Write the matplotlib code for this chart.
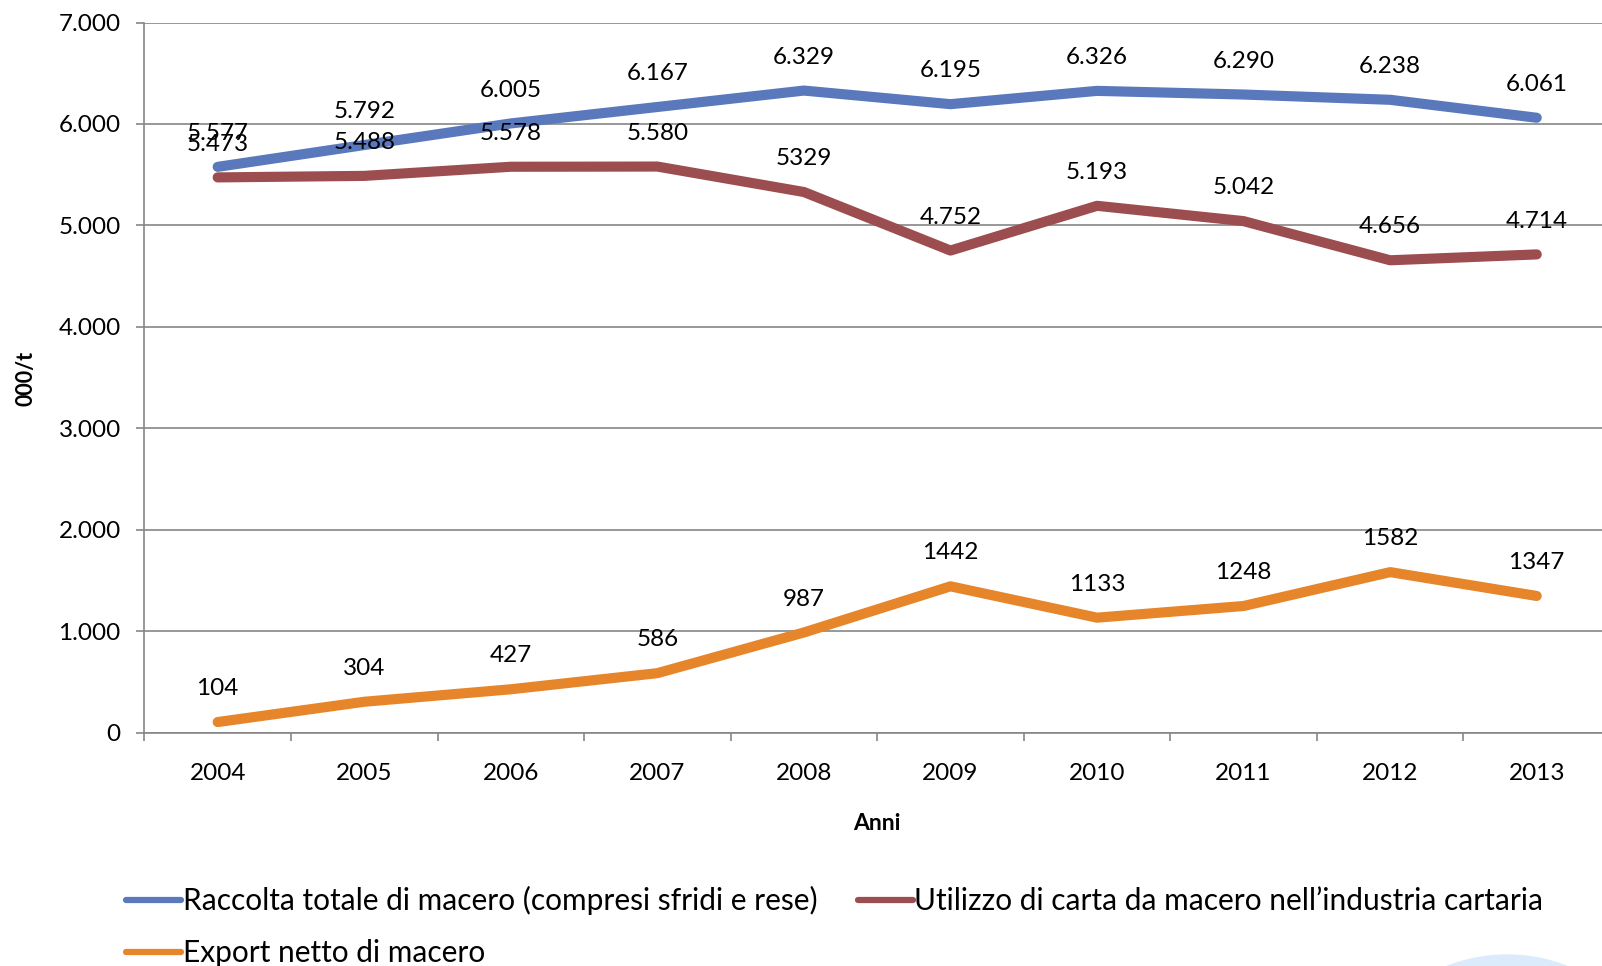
import matplotlib
matplotlib.use("Agg")
from matplotlib import pyplot as plt
from matplotlib.patches import Ellipse
from matplotlib.ticker import FuncFormatter, FixedLocator
import numpy as np

plt.rcParams['font.family'] = ['Lato', 'DejaVu Sans']

years = ['2004', '2005', '2006', '2007', '2008', '2009', '2010', '2011', '2012', '2013']

raccolta = [5577, 5792, 6005, 6167, 6329, 6195, 6326, 6290, 6238, 6061]
raccolta_labels = ['5.577', '5.792', '6.005', '6.167', '6.329', '6.195', '6.326', '6.290', '6.238', '6.061']

utilizzo = [5473, 5488, 5578, 5580, 5329, 4752, 5193, 5042, 4656, 4714]
utilizzo_labels = ['5.473', '5.488', '5.578', '5.580', '5329', '4.752', '5.193', '5.042', '4.656', '4.714']

export = [104, 304, 427, 586, 987, 1442, 1133, 1248, 1582, 1347]
export_labels = ['104', '304', '427', '586', '987', '1442', '1133', '1248', '1582', '1347']

series_names = ['Raccolta totale di macero (compresi sfridi e rese)',
                "Utilizzo di carta da macero nell\u2019industria cartaria",
                'Export netto di macero']
colors = ['#5A78BC', '#9C4D4F', '#E6852A']

W, H = 1602, 966
fig = plt.figure(figsize=(W / 100, H / 100), dpi=100)
ax = fig.add_axes([144.4 / W, 233.4 / H, (1610 - 144.4) / W, (943.5 - 233.4) / H])

x = np.arange(len(years))
grid_c = '#868686'

lines = []
for vals, labs, col, name in zip([raccolta, utilizzo, export],
                                 [raccolta_labels, utilizzo_labels, export_labels],
                                 colors, series_names):
    ln, = ax.plot(x, vals, color=col, lw=7.3, solid_capstyle='round',
                  solid_joinstyle='round', label=name, zorder=3)
    lines.append(ln)
    for xi, v, t in zip(x, vals, labs):
        ax.annotate(t, (xi, v), xytext=(0, 24), textcoords='offset points',
                    ha='center', va='center', fontsize=17.5, color='black', zorder=4)

ax.set_xlim(-0.5, 9.5)
ax.set_ylim(0, 7000)
ax.set_yticks(np.arange(0, 7001, 1000))
ax.yaxis.set_major_formatter(FuncFormatter(lambda v, p: f"{int(v):,}".replace(',', '.')))
ax.grid(axis='y', color=grid_c, lw=1.2, zorder=1)
ax.set_axisbelow(True)

ax.set_xticks(x)
ax.set_xticklabels(years)
ax.xaxis.set_minor_locator(FixedLocator(np.arange(-0.5, 10, 1)))
ax.tick_params(axis='x', which='major', length=0, pad=22, labelsize=17.5)
ax.tick_params(axis='x', which='minor', length=6, width=1.2, color=grid_c, direction='out')
ax.tick_params(axis='y', length=6, width=1.2, color=grid_c, pad=11, labelsize=17.5)

for s in ['top', 'right']:
    ax.spines[s].set_visible(False)
for s in ['left', 'bottom']:
    ax.spines[s].set_color(grid_c)
    ax.spines[s].set_linewidth(1.2)

fig.text(25.5 / W, 1 - 378 / H, '000/t', rotation=90, ha='center', va='center',
         fontsize=15.5, fontweight='bold')
fig.text(877 / W, 1 - 823 / H, 'Anni', ha='center', va='center',
         fontsize=16.5, fontweight='bold')

# column-wise fill: raccolta + export in the first column, utilizzo in the second
leg = fig.legend(handles=[lines[0], lines[2], lines[1]], loc='upper left',
                 bbox_to_anchor=(126 / W, 1 - 886 / H),
                 ncol=2, frameon=False, fontsize=21.5, handlelength=1.85,
                 handletextpad=0.05, columnspacing=1.35, labelspacing=0.8,
                 borderaxespad=0, borderpad=0)
for lh in leg.get_lines():
    lh.set_linewidth(4.5)

# light blue shape peeking in at the bottom right corner
fig.patches.append(Ellipse((1507 / W, -153 / H), 328 / W, 328 / H,
                           transform=fig.transFigure, color='#DCEBFB', zorder=0))

fig.savefig('out.png', dpi=100)
